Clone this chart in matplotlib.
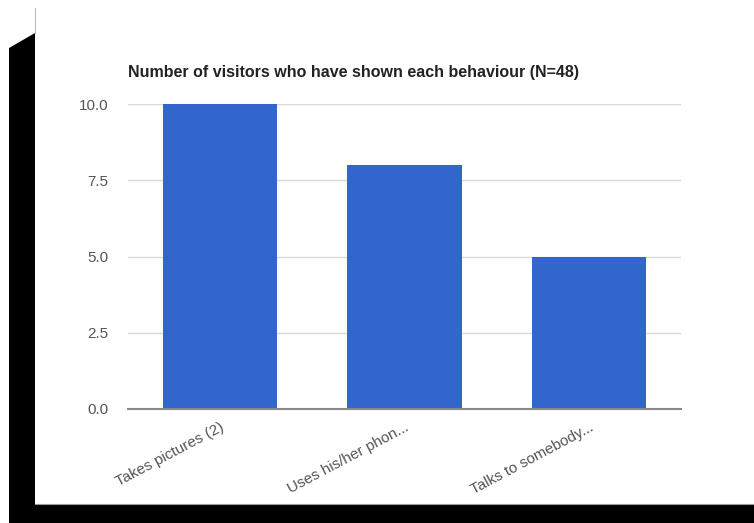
import matplotlib
matplotlib.use('Agg')
import matplotlib.pyplot as plt
from matplotlib.patches import Polygon

# data
behaviours = ['Takes pictures (2)', 'Uses his/her phon...', 'Talks to somebody...']
visitors = [10, 8, 5]
yticks = [0, 2.5, 5, 7.5, 10]

W, H = 754, 523
plt.rcParams['font.family'] = ['Liberation Sans', 'DejaVu Sans']
fig = plt.figure(figsize=(W/100, H/100), dpi=100)
fig.patch.set_facecolor('white')

# black frame behind the chart (screenshot border)
bg = fig.add_axes([0, 0, 1, 1], zorder=-1)
bg.set_xlim(0, W)
bg.set_ylim(H, 0)
bg.axis('off')
bg.add_patch(Polygon([(9, 48), (35, 33), (35, 504), (754, 504), (754, 523), (9, 523)],
                     closed=True, facecolor='black', edgecolor='none'))
bg.plot([35, 35], [8, 33], color='#bbbbbb', lw=0.8)
bg.plot([35, 754], [504, 504], color='#999999', lw=0.8)

# chart
ax = fig.add_axes([128/W, (H-409)/H, (681-128)/W, (409-104)/H])
ax.bar(range(len(behaviours)), visitors, width=0.62, color='#3366cc', zorder=2)
ax.set_xlim(-0.5, 2.5)
ax.set_ylim(0, 10)
ax.set_yticks(yticks)
ax.set_yticklabels(['%.1f' % v for v in yticks])
ax.yaxis.grid(True, color='#d9d9d9', lw=1)
ax.set_axisbelow(True)
for s in ['top', 'right', 'left']:
    ax.spines[s].set_visible(False)
ax.spines['bottom'].set_color('#888888')
ax.spines['bottom'].set_linewidth(1.5)
ax.spines['bottom'].set_zorder(3)
ax.tick_params(axis='y', length=0, pad=14, labelsize=11, labelcolor='#555555')
ax.tick_params(axis='x', length=0, pad=8, labelsize=11, labelcolor='#555555')
ax.set_xticks(range(len(behaviours)))
ax.set_xticklabels(behaviours, rotation=28, ha='right', va='top', rotation_mode='anchor')

fig.text(128/W, 1 - 72/H, 'Number of visitors who have shown each behaviour (N=48)',
         fontsize=11.5, fontweight='bold', color='#222222', va='center', ha='left')

fig.savefig('out.png', dpi=100)
